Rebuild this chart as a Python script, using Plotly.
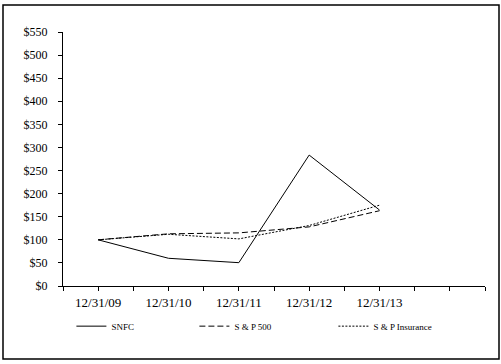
import plotly.graph_objects as go

dates = ["12/31/09", "12/31/10", "12/31/11", "12/31/12", "12/31/13"]
snfc = [100, 60, 50.5, 283.5, 164.5]
sp500 = [100, 113, 115, 128, 163]
sp_ins = [100, 112, 102, 131, 175]
y_ticks = list(range(0, 551, 50))

n_slots = len(dates) + 1  # one empty category at the end
xs = list(range(len(dates)))

font_family = "Liberation Serif, Times New Roman, serif"

fig = go.Figure()
fig.add_trace(go.Scatter(x=xs, y=snfc, name="SNFC", mode="lines", legend="legend",
                         line=dict(color="black", width=1)))
fig.add_trace(go.Scatter(x=xs, y=sp500, name="S & P 500", mode="lines", legend="legend2",
                         line=dict(color="black", width=1, dash="6px,3px")))
fig.add_trace(go.Scatter(x=xs, y=sp_ins, name="S & P Insurance", mode="lines", legend="legend3",
                         line=dict(color="black", width=1, dash="2px,1.5px")))

tickvals = [i * 0.5 - 0.5 for i in range(2 * n_slots + 1)]
ticktext = []
for v in tickvals:
    if abs(v - round(v)) < 1e-9 and 0 <= round(v) < len(dates):
        ticktext.append(dates[int(round(v))])
    else:
        ticktext.append("")

L, R, T, B = 63, 16, 32, 78
W, H = 501, 364
pw, ph = W - L - R, H - T - B


def leg(text_px):
    return dict(orientation="h", x=(text_px - 40.6 - L) / pw, y=-0.101,
                xanchor="left", yanchor="top",
                font=dict(size=9, family=font_family),
                itemwidth=30, bgcolor="rgba(0,0,0,0)")


fig.update_layout(
    width=W, height=H,
    margin=dict(l=L, r=R, t=T, b=B, autoexpand=False),
    paper_bgcolor="white", plot_bgcolor="white",
    font=dict(family=font_family, color="black"),
    showlegend=True,
    legend=leg(112), legend2=leg(235), legend3=leg(374),
    xaxis=dict(range=[-0.5, n_slots - 0.5], tickmode="array",
               tickvals=tickvals, ticktext=ticktext,
               ticks="outside", ticklen=4, tickcolor="black", tickwidth=1,
               showline=True, linecolor="black", linewidth=1,
               showgrid=False, zeroline=False,
               tickfont=dict(size=13, family=font_family), fixedrange=True),
    yaxis=dict(range=[0, 550], tickmode="array", tickvals=y_ticks,
               ticktext=[f"${v}" for v in y_ticks],
               ticks="outside", ticklen=4, tickcolor="black", tickwidth=1,
               showline=True, linecolor="black", linewidth=1,
               showgrid=False, zeroline=False, ticklabelstandoff=8,
               tickfont=dict(size=12, family=font_family), fixedrange=True),
    shapes=[dict(type="rect", xref="paper", yref="paper",
                 x0=(3 - L) / pw, x1=(499 - L) / pw,
                 y0=(H - B - 359) / ph, y1=(H - B - 5) / ph,
                 line=dict(color="black", width=1.5), fillcolor="rgba(0,0,0,0)")],
)

fig.write_html("out.html")
